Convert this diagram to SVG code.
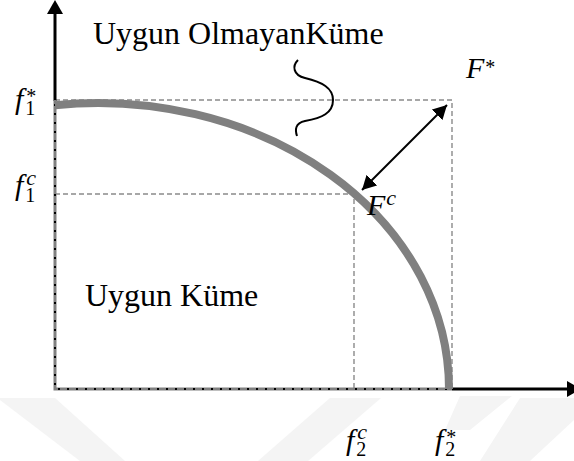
<svg xmlns="http://www.w3.org/2000/svg" width="574" height="461" viewBox="0 0 574 461">
<style>
.wm{fill:#f4f4f4;stroke:none}
.dash{fill:none;stroke:#8a8a8a;stroke-width:1.4;stroke-dasharray:5 3}
.edge{fill:none;stroke:#808080;stroke-width:3}
.dots{fill:none;stroke:#000;stroke-width:2;stroke-dasharray:2 7}
.axis{fill:none;stroke:#000;stroke-width:3}
.lbl{font-family:"Liberation Serif","Times New Roman",serif;font-size:32px;fill:#000}
.m{font-family:"Liberation Serif","Times New Roman",serif;font-style:italic;font-size:30px;fill:#000}
.up{font-style:normal;font-size:20px}
.sc{font-size:22px}
</style>
<defs>
<marker id="ah" markerUnits="userSpaceOnUse" markerWidth="16" markerHeight="16" refX="14" refY="7.5" orient="auto-start-reverse" viewBox="0 0 16 16">
<path d="M0,0 L14,7.5 L0,15 z" fill="#000"/>
</marker>
</defs>
<rect width="574" height="461" fill="#fff"/>
<g id="watermark">
<polygon class="wm" points="0,398 55,398 125,461 80,461 0,400"/>
<polygon class="wm" points="330,398 381,398 308,461 258,461"/>
<polygon class="wm" points="460,396 512,396 470,430 445,430"/>
<polygon class="wm" points="520,398 574,398 574,420 530,461 480,461"/>
</g>
<g id="guides">
<path class="dash" d="M55,100 H452 V389"/>
<path class="dash" d="M55,194 H354 V389"/>
</g>
<g id="axes">
<path class="axis" d="M55,101 V13"/>
<polygon points="47,14 63,14 55,0" fill="#000"/>
<path class="axis" d="M452,389 H568"/>
<polygon points="567,381 567,397 581,389" fill="#000"/>
<path class="edge" d="M55,100 V389 H452"/>
<path class="dots" d="M55,104 V389 H452"/>
</g>
<g id="front">
<path d="M55,105.15 A351,286 0 0 1 449,389" fill="none" stroke="#808080" stroke-width="8"/>
</g>
<g id="connectors">
<line x1="362" y1="190" x2="447" y2="105" stroke="#000" stroke-width="2" marker-start="url(#ah)" marker-end="url(#ah)"/>
<path d="M298,60 C292,66 293,75 305,78 C322,82 333,88 333,100 C333,113 322,118 305,121 C295,123 295,130 297,136" fill="none" stroke="#000" stroke-width="2"/>
</g>
<g id="infeasible">
<text class="lbl" x="93" y="44">Uygun OlmayanKüme</text>
</g>
<g id="feasible">
<text class="lbl" x="85" y="306">Uygun Küme</text>
</g>
<g id="Fstar">
<text class="m" x="466" y="78">F<tspan class="up" dx="1" dy="-4">*</tspan></text>
</g>
<g id="Fc">
<text class="m" x="367" y="215">F<tspan class="sc" dx="1" dy="-10">c</tspan></text>
</g>
<g id="f1star">
<text class="m" x="15" y="109">f<tspan class="up" dx="2" dy="6">1</tspan><tspan class="up" dx="-9" dy="-12">*</tspan></text>
</g>
<g id="f1c">
<text class="m" x="15" y="195">f<tspan class="up" dx="2" dy="7">1</tspan><tspan class="sc" dx="-9" dy="-17">c</tspan></text>
</g>
<g id="f2c">
<text class="m" x="346" y="450">f<tspan class="up" dx="2" dy="6">2</tspan><tspan class="sc" dx="-9" dy="-17">c</tspan></text>
</g>
<g id="f2star">
<text class="m" x="435" y="450">f<tspan class="up" dx="2" dy="6">2</tspan><tspan class="up" dx="-9" dy="-12">*</tspan></text>
</g>
</svg>
